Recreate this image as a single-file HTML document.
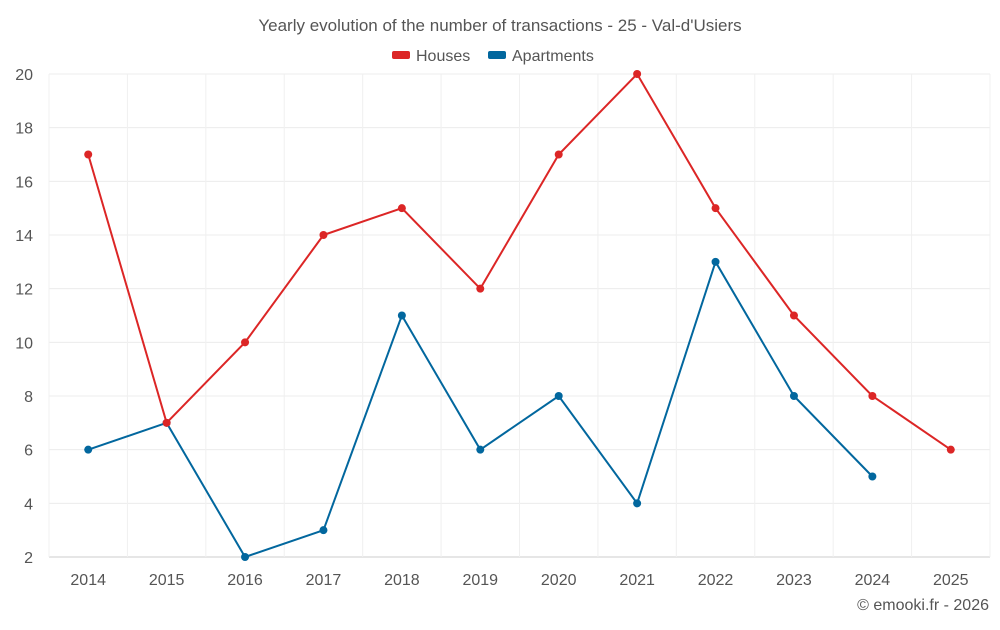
<!DOCTYPE html>
<html><head><meta charset="utf-8"><style>
body{margin:0;background:#fff;font-family:"Liberation Sans",sans-serif}
svg text{font-family:"Liberation Sans",sans-serif;fill:#555}
</style></head><body>
<svg id="c" width="1000" height="625">
<text x="500" y="31" text-anchor="middle" font-size="17">Yearly evolution of the number of transactions - 25 - Val-d'Usiers</text>
<g><rect x="392" y="51" width="18" height="8" rx="2" fill="#dc2626"/><text x="416" y="61" font-size="16">Houses</text></g>
<g><rect x="488" y="51" width="18" height="8" rx="2" fill="#02679e"/><text x="512" y="61" font-size="16">Apartments</text></g>
<text x="989" y="610" text-anchor="end" font-size="16">© emooki.fr - 2026</text>
</svg>
<script>
const years=["2014","2015","2016","2017","2018","2019","2020","2021","2022","2023","2024","2025"];
const houses=[17,7,10,14,15,12,17,20,15,11,8,6];
const apartments=[6,7,2,3,11,6,8,4,13,8,5,null];
const yTicks=[2,4,6,8,10,12,14,16,18,20];
const L=49,R=990,T=74,B=557,ymin=2,ymax=20;
const bw=(R-L)/years.length;
const xs=i=>L+bw*(i+0.5);
const ys=v=>B-(v-ymin)/(ymax-ymin)*(B-T);
const svg=document.getElementById('c');const NS='http://www.w3.org/2000/svg';
function mk(t,a,p){const e=document.createElementNS(NS,t);for(const k in a)e.setAttribute(k,a[k]);(p||svg).appendChild(e);return e;}
const g=mk('g',{});


yTicks.forEach(v=>{
 const l=mk('line',{x1:L,x2:R,y1:ys(v),y2:ys(v),stroke:v===ymin?'#ccc':'#ececec'},g);
 
 
 const t=mk('text',{x:33,y:ys(v)+6,'text-anchor':'end','font-size':16});t.textContent=v;
 
 
});
for(let i=0;i<=years.length;i++){const l=mk('line',{x1:L+bw*i,x2:L+bw*i,y1:T,y2:B,stroke:'#f0f0f0'},g);
 
 }
years.forEach((y,i)=>{const t=mk('text',{x:xs(i),y:585,'text-anchor':'middle','font-size':16});t.textContent=y;
 
 });
function series(d,c,n){
 const pts=d.map((v,i)=>v==null?null:[xs(i),ys(v)]).filter(p=>p);
 const p=mk('polyline',{points:pts.map(p=>p.join(',')).join(' '),fill:'none',stroke:c,'stroke-width':2});
 
 
 pts.forEach(q=>{const m=mk('circle',{cx:q[0],cy:q[1],r:4,fill:c});
  
  });
}
series(apartments,'#02679e','apartments');
series(houses,'#dc2626','houses');
</script>
</body></html>
